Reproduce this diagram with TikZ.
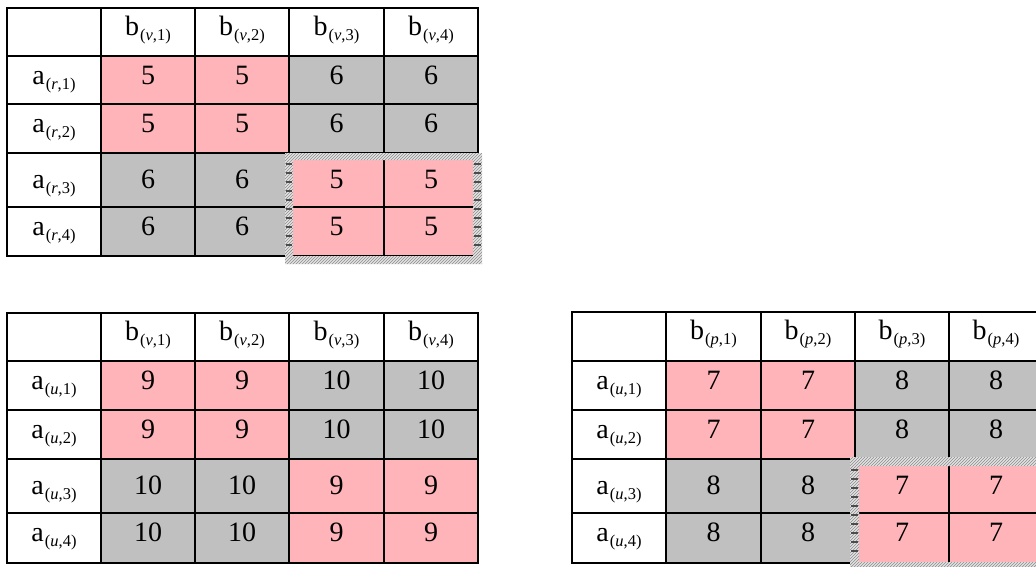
\documentclass[tikz,border=0pt]{standalone}
\usepackage{fontspec}
\setmainfont{Liberation Serif}
\usetikzlibrary{patterns}
\definecolor{pinkc}{RGB}{255,180,185}
\definecolor{grayc}{RGB}{192,192,192}
\tikzset{
  cellnum/.style={font=\fontsize{28}{28}\selectfont, anchor=base, inner sep=0pt},
  lab/.style={font=\fontsize{28}{28}\selectfont, anchor=base, inner sep=0pt},
  gridline/.style={line width=2pt, black},
  hatchbg/.style={fill=gray!22},
  hatchlines/.style={pattern=north east lines, pattern color=gray!90},
  dashmark/.style={line width=1.6pt, black!70}
}
\newcommand{\subidx}[2]{\kern1pt\raisebox{-5pt}{\fontsize{16.5}{16.5}\selectfont(\textit{#1},#2)}}
% #1 prefix, #2 xs array, #3 ys array, #4 b-letter, #5 a-letter, #6 pink value, #7 gray value
\newcommand{\gridtable}[7]{%
  \foreach \i in {1,...,4}{%
    \foreach \j in {1,...,4}{%
      \pgfmathsetmacro\xa{#2[\j]}%
      \pgfmathsetmacro\xb{#2[\j+1]}%
      \pgfmathsetmacro\ya{#3[\i]}%
      \pgfmathsetmacro\yb{#3[\i+1]}%
      \pgfmathsetmacro\xm{(\xa+\xb)/2}%
      \pgfmathsetmacro\yt{\ya+28+(\i==3?7:0)}%
      \pgfmathtruncatemacro\ispink{((\i<3 && \j<3) || (\i>2 && \j>2)) ? 1 : 0}%
      \ifnum\ispink=1
        \fill[pinkc] (\xa,\ya) rectangle (\xb,\yb);
        \node[cellnum] (#1c\i\j) at (\xm,\yt) {#6};
      \else
        \fill[grayc] (\xa,\ya) rectangle (\xb,\yb);
        \node[cellnum] (#1c\i\j) at (\xm,\yt) {#7};
      \fi
    }%
  }%
  \foreach \j in {1,...,4}{%
    \pgfmathsetmacro\xa{#2[\j]}%
    \pgfmathsetmacro\xb{#2[\j+1]}%
    \pgfmathsetmacro\xm{(\xa+\xb)/2}%
    \pgfmathsetmacro\yt{#3[0]+27}%
    \node[lab] (#1h\j) at (\xm,\yt) {b\subidx{#4}{\j}};
  }%
  \foreach \i in {1,...,4}{%
    \pgfmathsetmacro\ya{#3[\i]}%
    \pgfmathsetmacro\xa{#2[0]}%
    \pgfmathsetmacro\xb{#2[1]}%
    \pgfmathsetmacro\xm{(\xa+\xb)/2}%
    \pgfmathsetmacro\yt{\ya+28+(\i==3?7:0)}%
    \node[lab] (#1r\i) at (\xm,\yt) {a\subidx{#5}{\i}};
  }%
  \foreach \k in {0,...,5}{%
    \pgfmathsetmacro\xa{#2[0]}%
    \pgfmathsetmacro\xb{#2[5]}%
    \pgfmathsetmacro\ya{#3[\k]}%
    \draw[gridline] (\xa-1,\ya) -- (\xb+1,\ya);
    \pgfmathsetmacro\xa{#2[\k]}%
    \pgfmathsetmacro\ya{#3[0]}%
    \pgfmathsetmacro\yb{#3[5]}%
    \draw[gridline] (\xa,\ya) -- (\xa,\yb);
  }%
}
% hatched frame: outer (#1,#2)-(#3,#4), inner (#5,#6)-(#7,#8)
\newcommand{\hatchframe}[8]{%
  \fill[hatchbg, even odd rule] (#1,#2) rectangle (#3,#4) (#5,#6) rectangle (#7,#8);
  \fill[hatchlines, even odd rule] (#1,#2) rectangle (#3,#4) (#5,#6) rectangle (#7,#8);
}
\begin{document}
\begin{tikzpicture}[x=1pt,y=-1pt]
\useasboundingbox (0,0) rectangle (1036,566);
\fill[white] (0,0) rectangle (1036,566);

% top table
\gridtable{t}{{7,101,195,289,384,478}}{{8,56,104,153,207,256}}{v}{r}{5}{6}
\hatchframe{285}{153}{482}{264}{293}{160}{473}{256}
\foreach \yy in {164,173,...,252}{
  \draw[dashmark] (286,\yy) -- (292,\yy);
  \draw[dashmark] (474,\yy) -- (481,\yy);
}

% bottom-left table
\gridtable{l}{{7,101,195,289,384,478}}{{313,361,410,459,513,563}}{v}{u}{9}{10}

% bottom-right table
\gridtable{r}{{572,666,761,855,949,1043}}{{312,361,410,459,513,563}}{p}{u}{7}{8}
\hatchframe{850}{457}{1050}{572}{859}{466}{1040}{562}
\foreach \yy in {470,479,...,558}{
  \draw[dashmark] (851,\yy) -- (858,\yy);
}
\end{tikzpicture}
\end{document}
